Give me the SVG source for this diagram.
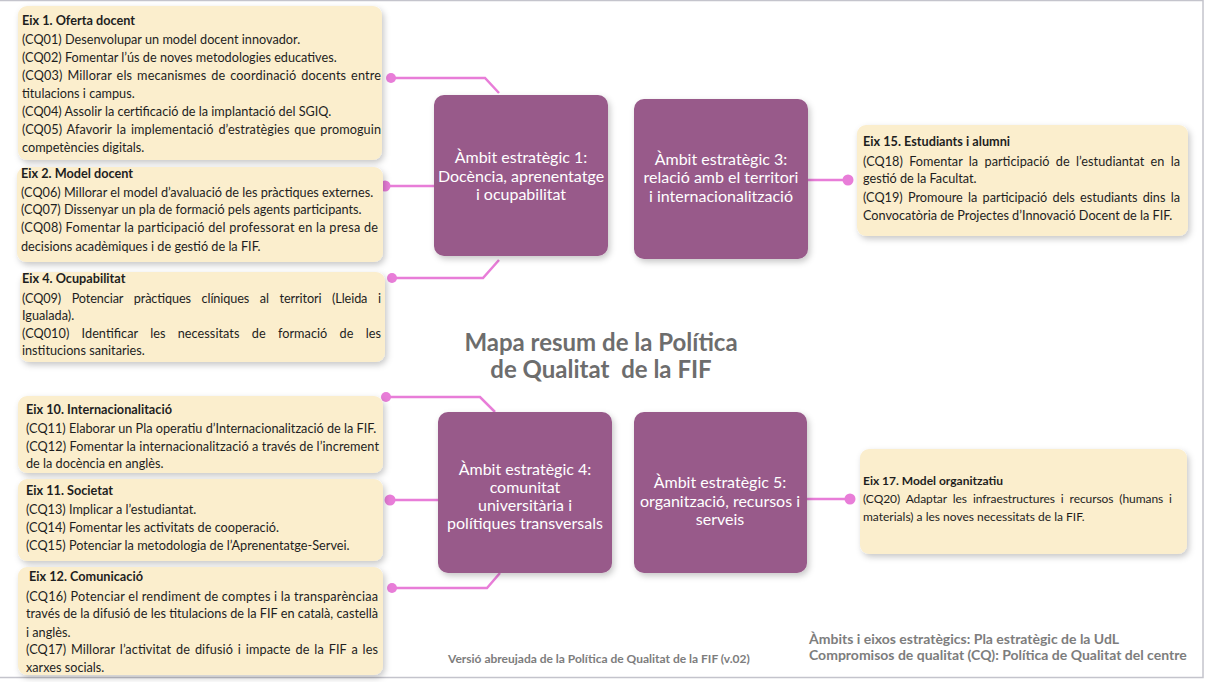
<svg xmlns="http://www.w3.org/2000/svg" width="1205" height="682" viewBox="0 0 1205 682">
<defs>
<filter id="sh" x="-10%" y="-10%" width="125%" height="130%">
<feDropShadow dx="2" dy="3" stdDeviation="3" flood-color="#000" flood-opacity="0.22"/>
</filter>
<style>
.y{fill:#fbeecd;filter:url(#sh)}
.p{fill:#985a8a;filter:url(#sh)}
.t{font-family:Lato,"Liberation Sans",sans-serif;font-size:12.7px;fill:#1e1e1e}
.b{font-weight:bold}
.s{font-size:12px}
.w{font-family:Lato,"Liberation Sans",sans-serif;font-size:16px;fill:#ffffff;text-anchor:middle}
.c{fill:none;stroke:#e87dd8;stroke-width:2.5}
.d{fill:#e87dd8}
.ti{font-family:Lato,"Liberation Sans",sans-serif;font-size:24px;font-weight:bold;fill:#6d6d6d;text-anchor:middle}
.f{font-family:Lato,"Liberation Sans",sans-serif;font-weight:bold;fill:#7d7d7d}
</style>
</defs>
<rect x="0" y="0" width="1205" height="682" fill="#ffffff"/>
<rect x="-1" y="0.5" width="1204" height="677" fill="none" stroke="#c4c4cc" stroke-width="1.5"/>

<g id="connectors">
<path class="c" d="M391,78 H485 L499,93"/>
<path class="c" d="M385,186 H434"/>
<path class="c" d="M392,278 H483 L499,260"/>
<path class="c" d="M386,397 H480 L495,412"/>
<path class="c" d="M390,500 H438"/>
<path class="c" d="M392,588 H487 L500,573"/>
<path class="c" d="M808,180 H848"/>
<path class="c" d="M807,499 H850"/>
<circle class="d" cx="391" cy="78" r="5"/>
<circle class="d" cx="385" cy="186" r="5.5"/>
<circle class="d" cx="392" cy="278" r="5"/>
<circle class="d" cx="386" cy="397" r="5"/>
<circle class="d" cx="390" cy="500" r="5.5"/>
<circle class="d" cx="392" cy="588" r="5"/>
<circle class="d" cx="848" cy="180" r="5.5"/>
<circle class="d" cx="850" cy="499" r="5.5"/>
</g>

<g id="title">
<text class="ti" x="601" y="351">Mapa resum de la Política</text>
<text class="ti" x="601" y="378" xml:space="preserve">de Qualitat  de la FIF</text>
</g>

<g id="ambit1">
<rect class="p" x="434" y="95" width="174" height="161" rx="10"/>
<text class="w" x="521" y="163">Àmbit estratègic 1:</text>
<text class="w" x="521" y="182">Docència, aprenentatge</text>
<text class="w" x="521" y="200">i ocupabilitat</text>
</g>

<g id="ambit3">
<rect class="p" x="634" y="99" width="174" height="160" rx="10"/>
<text class="w" x="721" y="165">Àmbit estratègic 3:</text>
<text class="w" x="721" y="183">relació amb el territori</text>
<text class="w" x="721" y="202">i internacionalització</text>
</g>

<g id="ambit4">
<rect class="p" x="438" y="412" width="174" height="161" rx="10"/>
<text class="w" x="525" y="475">Àmbit estratègic 4:</text>
<text class="w" x="525" y="493">comunitat</text>
<text class="w" x="525" y="511">universitària i</text>
<text class="w" x="525" y="529">polítiques transversals</text>
</g>

<g id="ambit5">
<rect class="p" x="634" y="412" width="173" height="161" rx="10"/>
<text class="w" x="720" y="488">Àmbit estratègic 5:</text>
<text class="w" x="720" y="507">organització, recursos i</text>
<text class="w" x="720" y="525">serveis</text>
</g>

<g id="eix1">
<rect class="y" x="18" y="6" width="364" height="154" rx="9"/>
<text class="t b" x="22" y="25">Eix 1. Oferta docent</text>
<text class="t" x="22" y="44">(CQ01) Desenvolupar un model docent innovador.</text>
<text class="t" x="22" y="62">(CQ02) Fomentar l’ús de noves metodologies educatives.</text>
<text class="t" x="22" y="80" textLength="359" lengthAdjust="spacing" word-spacing="1.5">(CQ03) Millorar els mecanismes de coordinació docents entre</text>
<text class="t" x="22" y="98">titulacions i campus.</text>
<text class="t" x="22" y="116">(CQ04) Assolir la certificació de la implantació del SGIQ.</text>
<text class="t" x="22" y="134" textLength="359" lengthAdjust="spacing" word-spacing="1.5">(CQ05) Afavorir la implementació d’estratègies que promoguin</text>
<text class="t" x="22" y="152">competències digitals.</text>
</g>

<g id="eix2">
<rect class="y" x="17" y="167" width="366" height="95" rx="9"/>
<text class="t b" x="21" y="178">Eix 2. Model docent</text>
<text class="t" x="21" y="197">(CQ06) Millorar el model d’avaluació de les pràctiques externes.</text>
<text class="t" x="21" y="214">(CQ07) Dissenyar un pla de formació pels agents participants.</text>
<text class="t" x="21" y="232" textLength="357" lengthAdjust="spacing">(CQ08) Fomentar la participació del professorat en la presa de</text>
<text class="t" x="21" y="251">decisions acadèmiques i de gestió de la FIF.</text>
</g>

<g id="eix4">
<rect class="y" x="20" y="272" width="365" height="90" rx="9"/>
<text class="t b" x="22" y="283">Eix 4. Ocupabilitat</text>
<text class="t" x="22" y="303" textLength="359" lengthAdjust="spacing" word-spacing="7.5">(CQ09) Potenciar pràctiques clíniques al territori (Lleida i</text>
<text class="t" x="22" y="320">Igualada).</text>
<text class="t" x="22" y="338" textLength="359" lengthAdjust="spacing" word-spacing="9">(CQ010) Identificar les necessitats de formació de les</text>
<text class="t" x="22" y="355">institucions sanitaries.</text>
</g>

<g id="eix10">
<rect class="y" x="18" y="396" width="365" height="77" rx="9"/>
<text class="t b" x="26" y="414">Eix 10. Internacionalitació</text>
<text class="t" x="26" y="433">(CQ11) Elaborar un Pla operatiu d’Internacionalització de la FIF.</text>
<text class="t" x="26" y="451" textLength="353" lengthAdjust="spacing">(CQ12) Fomentar la internacionalització a través de l’increment</text>
<text class="t" x="26" y="468">de la docència en anglès.</text>
</g>

<g id="eix11">
<rect class="y" x="18" y="479" width="365" height="82" rx="9"/>
<text class="t b" x="26" y="495">Eix 11. Societat</text>
<text class="t" x="26" y="514">(CQ13) Implicar a l’estudiantat.</text>
<text class="t" x="26" y="532">(CQ14) Fomentar les activitats de cooperació.</text>
<text class="t" x="26" y="550">(CQ15) Potenciar la metodologia de l’Aprenentatge-Servei.</text>
</g>

<g id="eix12">
<rect class="y" x="18" y="567" width="365" height="108" rx="9"/>
<text class="t b" x="29" y="581">Eix 12. Comunicació</text>
<text class="t" x="26" y="601" textLength="352" lengthAdjust="spacing">(CQ16) Potenciar el rendiment de comptes i la transparènciaa</text>
<text class="t" x="26" y="618" textLength="352" lengthAdjust="spacing">través de la difusió de les titulacions de la FIF en català, castellà</text>
<text class="t" x="26" y="637">i anglès.</text>
<text class="t" x="26" y="654" textLength="352" lengthAdjust="spacing" word-spacing="1.5">(CQ17) Millorar l’activitat de difusió i impacte de la FIF a les</text>
<text class="t" x="26" y="672">xarxes socials.</text>
</g>

<g id="eix15">
<rect class="y" x="857" y="125" width="331" height="111" rx="9"/>
<text class="t b" x="863" y="146">Eix 15. Estudiants i alumni</text>
<text class="t" x="863" y="166" textLength="317" lengthAdjust="spacing" word-spacing="3">(CQ18) Fomentar la participació de l’estudiantat en la</text>
<text class="t" x="863" y="183">gestió de la Facultat.</text>
<text class="t" x="863" y="202" textLength="317" lengthAdjust="spacing" word-spacing="2">(CQ19) Promoure la participació dels estudiants dins la</text>
<text class="t" x="863" y="220">Convocatòria de Projectes d’Innovació Docent de la FIF.</text>
</g>

<g id="eix17">
<rect class="y" x="860" y="449" width="327" height="105" rx="9"/>
<text class="t b s" x="863" y="485">Eix 17. Model organitzatiu</text>
<text class="t s" x="863" y="503" textLength="309" lengthAdjust="spacing" word-spacing="3">(CQ20) Adaptar les infraestructures i recursos (humans i</text>
<text class="t s" x="863" y="521">materials) a les noves necessitats de la FIF.</text>
</g>

<g id="footer">
<text class="f" x="448" y="663" font-size="12">Versió abreujada de la Política de Qualitat de la FIF (v.02)</text>
<text class="f" x="809" y="644" font-size="14">Àmbits i eixos estratègics: Pla estratègic de la UdL</text>
<text class="f" x="809" y="660" font-size="14">Compromisos de qualitat (CQ): Política de Qualitat del centre</text>
</g>
</svg>
